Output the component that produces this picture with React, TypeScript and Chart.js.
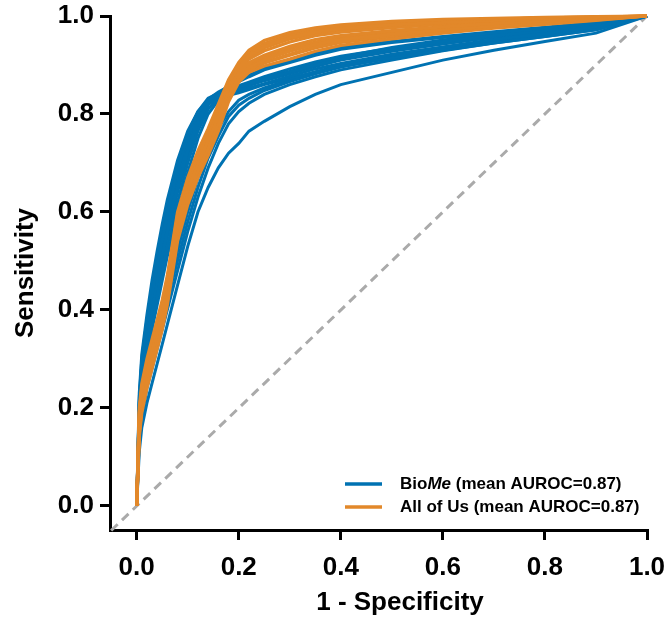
import React, { useEffect, useRef } from "react";
import { Chart, registerables } from "chart.js";

Chart.register(...registerables);

// Shared false-positive-rate grid (1 - Specificity)
const FPR = [0, 0.005, 0.01, 0.02, 0.03, 0.04, 0.05, 0.06, 0.08, 0.10, 0.12, 0.14, 0.16, 0.18, 0.20, 0.22, 0.25, 0.30, 0.35, 0.40, 0.50, 0.60, 0.70, 0.80, 0.90, 1.0];

// BioMe ROC curves (sensitivity at each FPR)
const BIOME_1 = [0, 0.23, 0.31, 0.39, 0.46, 0.52, 0.575, 0.625, 0.705, 0.765, 0.805, 0.828, 0.838, 0.843, 0.848, 0.853, 0.862, 0.877, 0.892, 0.903, 0.922, 0.937, 0.952, 0.964, 0.978, 1];
const BIOME_2 = [0, 0.21, 0.29, 0.37, 0.43, 0.49, 0.545, 0.595, 0.685, 0.755, 0.80, 0.83, 0.845, 0.856, 0.866, 0.876, 0.89, 0.905, 0.92, 0.932, 0.946, 0.956, 0.966, 0.975, 0.985, 1];
const BIOME_3 = [0, 0.19, 0.27, 0.34, 0.40, 0.46, 0.51, 0.56, 0.65, 0.725, 0.785, 0.822, 0.84, 0.85, 0.858, 0.865, 0.876, 0.892, 0.906, 0.918, 0.934, 0.948, 0.96, 0.97, 0.982, 1];
const BIOME_4 = [0, 0.20, 0.28, 0.355, 0.415, 0.475, 0.525, 0.575, 0.665, 0.735, 0.79, 0.82, 0.832, 0.838, 0.843, 0.85, 0.86, 0.873, 0.886, 0.897, 0.914, 0.93, 0.945, 0.958, 0.972, 1];
const BIOME_5 = [0, 0.17, 0.25, 0.32, 0.38, 0.43, 0.48, 0.53, 0.62, 0.70, 0.765, 0.81, 0.832, 0.846, 0.855, 0.862, 0.872, 0.886, 0.9, 0.912, 0.93, 0.944, 0.957, 0.968, 0.98, 1];
const BIOME_6 = [0, 0.22, 0.30, 0.38, 0.44, 0.50, 0.555, 0.605, 0.695, 0.76, 0.805, 0.832, 0.842, 0.849, 0.855, 0.862, 0.872, 0.887, 0.902, 0.916, 0.936, 0.951, 0.963, 0.973, 0.984, 1];
const BIOME_7 = [0, 0.13, 0.18, 0.24, 0.28, 0.32, 0.36, 0.40, 0.48, 0.56, 0.63, 0.69, 0.74, 0.78, 0.805, 0.822, 0.84, 0.86, 0.876, 0.89, 0.91, 0.929, 0.945, 0.958, 0.972, 1];
const BIOME_8 = [0, 0.14, 0.20, 0.26, 0.30, 0.34, 0.38, 0.42, 0.50, 0.58, 0.65, 0.71, 0.755, 0.795, 0.818, 0.832, 0.848, 0.866, 0.882, 0.896, 0.916, 0.933, 0.948, 0.961, 0.975, 1];
const BIOME_9 = [0, 0.11, 0.16, 0.21, 0.25, 0.29, 0.33, 0.37, 0.45, 0.53, 0.60, 0.65, 0.69, 0.72, 0.74, 0.765, 0.785, 0.815, 0.84, 0.86, 0.885, 0.91, 0.93, 0.948, 0.965, 1];
const BIOME_10 = [0, 0.18, 0.26, 0.33, 0.39, 0.45, 0.50, 0.55, 0.64, 0.715, 0.775, 0.818, 0.842, 0.857, 0.868, 0.879, 0.893, 0.91, 0.925, 0.936, 0.948, 0.958, 0.968, 0.977, 0.987, 1];
const BIOME_11 = [0, 0.21, 0.29, 0.36, 0.42, 0.48, 0.535, 0.585, 0.675, 0.745, 0.797, 0.826, 0.838, 0.846, 0.851, 0.858, 0.868, 0.882, 0.897, 0.91, 0.928, 0.943, 0.957, 0.968, 0.98, 1];
const BIOME_12 = [0, 0.16, 0.23, 0.30, 0.36, 0.41, 0.46, 0.51, 0.60, 0.68, 0.75, 0.80, 0.828, 0.842, 0.851, 0.859, 0.869, 0.884, 0.899, 0.911, 0.931, 0.945, 0.957, 0.969, 0.981, 1];
const BIOME_13 = [0, 0.15, 0.21, 0.27, 0.31, 0.35, 0.39, 0.43, 0.52, 0.60, 0.67, 0.725, 0.77, 0.805, 0.828, 0.84, 0.853, 0.87, 0.886, 0.9, 0.92, 0.936, 0.95, 0.962, 0.976, 1];

// All of Us ROC curves
const AOU_1 = [0, 0.20, 0.25, 0.30, 0.34, 0.38, 0.42, 0.47, 0.60, 0.67, 0.725, 0.77, 0.82, 0.87, 0.905, 0.93, 0.95, 0.966, 0.976, 0.982, 0.989, 0.993, 0.995, 0.997, 0.999, 1];
const AOU_2 = [0, 0.18, 0.235, 0.285, 0.325, 0.365, 0.405, 0.455, 0.585, 0.66, 0.715, 0.76, 0.81, 0.862, 0.897, 0.918, 0.938, 0.956, 0.967, 0.974, 0.982, 0.987, 0.991, 0.994, 0.997, 1];
const AOU_3 = [0, 0.17, 0.22, 0.27, 0.31, 0.35, 0.39, 0.44, 0.57, 0.645, 0.70, 0.745, 0.795, 0.85, 0.885, 0.905, 0.92, 0.938, 0.952, 0.96, 0.97, 0.978, 0.985, 0.99, 0.995, 1];
const AOU_4 = [0, 0.155, 0.205, 0.255, 0.295, 0.335, 0.375, 0.425, 0.555, 0.63, 0.685, 0.73, 0.78, 0.838, 0.875, 0.895, 0.91, 0.928, 0.942, 0.952, 0.963, 0.972, 0.98, 0.986, 0.993, 1];
const AOU_5 = [0, 0.14, 0.19, 0.24, 0.28, 0.32, 0.36, 0.41, 0.54, 0.615, 0.67, 0.715, 0.765, 0.825, 0.865, 0.885, 0.898, 0.912, 0.928, 0.94, 0.953, 0.965, 0.975, 0.983, 0.991, 1];
const AOU_6 = [0, 0.15, 0.20, 0.25, 0.29, 0.33, 0.37, 0.42, 0.55, 0.625, 0.68, 0.728, 0.785, 0.855, 0.893, 0.92, 0.942, 0.96, 0.97, 0.977, 0.985, 0.99, 0.993, 0.996, 0.998, 1];
const AOU_7 = [0, 0.19, 0.24, 0.29, 0.33, 0.37, 0.41, 0.46, 0.59, 0.665, 0.72, 0.762, 0.805, 0.848, 0.875, 0.89, 0.905, 0.922, 0.937, 0.948, 0.96, 0.97, 0.979, 0.986, 0.993, 1];
const AOU_8 = [0, 0.19, 0.243, 0.293, 0.333, 0.373, 0.413, 0.463, 0.593, 0.665, 0.72, 0.765, 0.815, 0.866, 0.901, 0.924, 0.944, 0.961, 0.971, 0.978, 0.986, 0.99, 0.993, 0.996, 0.998, 1];
const AOU_9 = [0, 0.175, 0.228, 0.278, 0.318, 0.358, 0.398, 0.448, 0.578, 0.652, 0.708, 0.752, 0.802, 0.856, 0.891, 0.912, 0.929, 0.947, 0.96, 0.967, 0.976, 0.983, 0.988, 0.992, 0.996, 1];
const AOU_10 = [0, 0.162, 0.212, 0.262, 0.302, 0.342, 0.382, 0.432, 0.562, 0.637, 0.692, 0.738, 0.788, 0.844, 0.88, 0.9, 0.915, 0.933, 0.947, 0.956, 0.967, 0.975, 0.983, 0.988, 0.994, 1];
const AOU_11 = [0, 0.148, 0.198, 0.248, 0.288, 0.328, 0.368, 0.418, 0.548, 0.622, 0.678, 0.722, 0.772, 0.832, 0.87, 0.89, 0.904, 0.92, 0.935, 0.946, 0.958, 0.969, 0.978, 0.985, 0.992, 1];
const AOU_12 = [0, 0.165, 0.215, 0.265, 0.305, 0.345, 0.385, 0.435, 0.565, 0.64, 0.695, 0.74, 0.79, 0.852, 0.89, 0.914, 0.935, 0.953, 0.964, 0.971, 0.98, 0.986, 0.99, 0.994, 0.997, 1];

const BIOME_CURVES = [BIOME_1, BIOME_2, BIOME_3, BIOME_4, BIOME_5, BIOME_6, BIOME_7, BIOME_8, BIOME_9, BIOME_10, BIOME_11, BIOME_12, BIOME_13];
const AOU_CURVES = [AOU_1, AOU_2, AOU_3, AOU_4, AOU_5, AOU_6, AOU_7, AOU_8, AOU_9, AOU_10, AOU_11, AOU_12];

const CHANCE_X = [-0.05, 1.0];
const CHANCE_Y = [-0.05, 1.0];

const X_TICKS = [0, 0.2, 0.4, 0.6, 0.8, 1.0];
const Y_TICKS = [0, 0.2, 0.4, 0.6, 0.8, 1.0];

const X_TITLE = "1 - Specificity";
const Y_TITLE = "Sensitivity";

const BLUE = "rgb(0,114,178)";
const ORANGE = "rgb(226,136,42)";
const FONT = "'Liberation Sans', Arial, Helvetica, sans-serif";

const overlayPlugin = {
  id: "overlay",
  afterDraw(chart: any) {
    const ctx = chart.ctx;
    ctx.save();
    // axis titles
    ctx.fillStyle = "#000";
    ctx.font = `bold 26px ${FONT}`;
    ctx.textAlign = "center";
    ctx.textBaseline = "alphabetic";
    ctx.fillText(X_TITLE, 400, 610);
    ctx.save();
    ctx.translate(33, 273);
    ctx.rotate(-Math.PI / 2);
    ctx.fillText(Y_TITLE, 0, 0);
    ctx.restore();

    // legend
    const items = [
      { color: BLUE, parts: [["Bio", "bold"], ["Me", "italic bold"], [" (mean AUROC=0.87)", "bold"]] },
      { color: ORANGE, parts: [["All of Us (mean AUROC=0.87)", "bold"]] },
    ];
    const x0 = 345, x1 = 382, tx = 400;
    const ys = [484, 507];
    items.forEach((it, i) => {
      const y = ys[i];
      ctx.strokeStyle = it.color;
      ctx.lineWidth = 3.5;
      ctx.beginPath();
      ctx.moveTo(x0, y);
      ctx.lineTo(x1, y);
      ctx.stroke();
      let x = tx;
      ctx.fillStyle = "#000";
      ctx.textBaseline = "middle";
      ctx.textAlign = "left";
      it.parts.forEach(([t, style]) => {
        ctx.font = `${style} 17px ${FONT}`;
        ctx.fillText(t, x, y);
        x += ctx.measureText(t).width;
      });
    });
    ctx.restore();
  },
};

export default function App() {
  const ref = useRef<HTMLCanvasElement | null>(null);
  useEffect(() => {
    if (!ref.current) return;
    const toPts = (ys: number[]) => ys.map((y, i) => ({ x: FPR[i], y }));
    const mk = (c: number[], color: string, w: number) => ({
      data: toPts(c),
      borderColor: color,
      borderWidth: w,
      pointRadius: 0,
      tension: 0,
      clip: 6,
    });
    const orangeSets = AOU_CURVES.map((c) => mk(c, ORANGE, 3.2));
    const blueSets = BIOME_CURVES.map((c) => mk(c, BLUE, 3));
    const chance = {
      data: CHANCE_X.map((x, i) => ({ x, y: CHANCE_Y[i] })),
      borderColor: "#aaaaaa",
      borderWidth: 3,
      borderDash: [9, 6],
      pointRadius: 0,
      clip: 6,
    };
    const tickFont = { family: FONT, size: 26, weight: "bold" as const };
    const chart = new Chart(ref.current, {
      type: "line",
      data: { datasets: [...orangeSets, ...blueSets, chance] as any },
      plugins: [overlayPlugin],
      options: {
        animation: false,
        responsive: true,
        maintainAspectRatio: false,
        parsing: false as any,
        layout: { padding: { top: 16, right: 18, left: 0, bottom: 0 } },
        plugins: { legend: { display: false }, tooltip: { enabled: false } },
        scales: {
          x: {
            type: "linear",
            min: -0.0523,
            max: 1.0,
            afterFit: (s: any) => { s.height = 88; s.paddingRight = 0; s.paddingLeft = 0; },
            afterBuildTicks: (s: any) => { s.ticks = X_TICKS.map((v) => ({ value: v })); },
            border: { display: true, width: 3, color: "#000" },
            grid: { drawOnChartArea: false, drawTicks: true, tickLength: 10, tickWidth: 3, tickColor: "#000", lineWidth: 3, color: "#000" },
            ticks: { color: "#000", font: tickFont, padding: 12, maxRotation: 0, callback: (v: any) => Number(v).toFixed(1) },
          },
          y: {
            type: "linear",
            min: -0.049,
            max: 1.0,
            afterFit: (s: any) => { s.width = 110; s.paddingTop = 0; s.paddingBottom = 0; },
            afterBuildTicks: (s: any) => { s.ticks = Y_TICKS.map((v) => ({ value: v })); },
            border: { display: true, width: 3, color: "#000" },
            grid: { drawOnChartArea: false, drawTicks: true, tickLength: 10, tickWidth: 3, tickColor: "#000", lineWidth: 3, color: "#000" },
            ticks: { color: "#000", font: tickFont, padding: 6, callback: (v: any) => Number(v).toFixed(1) },
          },
        },
      },
    });
    return () => chart.destroy();
  }, []);
  return (
    <div style={{ position: "fixed", left: 0, top: 0, width: 665, height: 618, background: "#fff" }}>
      <canvas ref={ref} />
    </div>
  );
}
